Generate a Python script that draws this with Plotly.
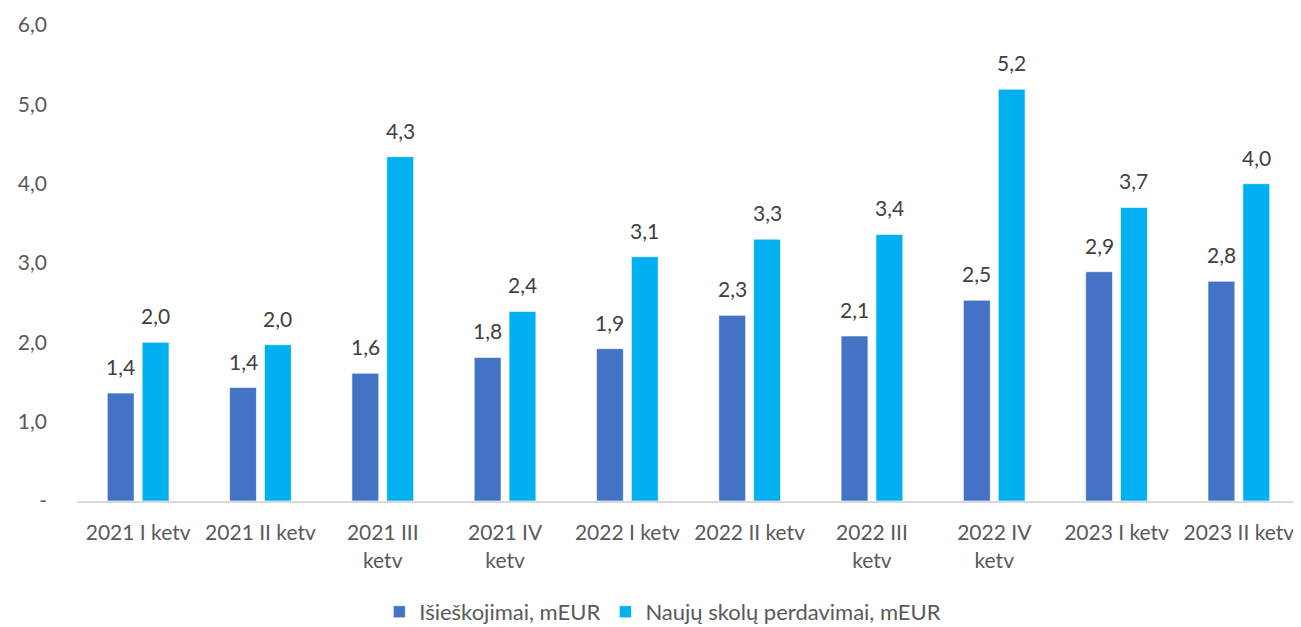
import plotly.graph_objects as go

categories = ["2021 I ketv", "2021 II ketv", "2021 III<br>ketv", "2021 IV<br>ketv",
              "2022 I ketv", "2022 II ketv", "2022 III<br>ketv", "2022 IV<br>ketv",
              "2023 I ketv", "2023 II ketv"]
isieskojimai = [1.36, 1.43, 1.61, 1.81, 1.92, 2.34, 2.08, 2.53, 2.89, 2.77]
perdavimai = [2.00, 1.97, 4.34, 2.39, 3.08, 3.30, 3.36, 5.19, 3.70, 4.00]
series_names = ["Išieškojimai, mEUR", "Naujų skolų perdavimai, mEUR"]
y_tickvals = [0, 1, 2, 3, 4, 5, 6]
y_ticktext = ["-", "1,0", "2,0", "3,0", "4,0", "5,0", "6,0"]

FONT = "Lato"
colors = ["#4472C4", "#00B0F0"]
series = [isieskojimai, perdavimai]
shifts = [-17.4, 17.4]

fig = go.Figure()
for name, vals, col in zip(series_names, series, colors):
    fig.add_trace(go.Bar(
        x=categories, y=vals, name=name,
        marker=dict(color=col, line=dict(color="rgba(255,255,255,0.6)", width=1)),
        cliponaxis=False,
    ))

for vals, sh in zip(series, shifts):
    for c, v in zip(categories, vals):
        fig.add_annotation(x=c, y=v, text=f"{v:.1f}".replace(".", ","),
                           showarrow=False, xshift=sh, yshift=12, yanchor="bottom",
                           font=dict(family=FONT, size=21, color="#404040"))

fig.update_layout(
    width=1293, height=619,
    margin=dict(l=69, r=1, t=17, b=126, autoexpand=False),
    paper_bgcolor="white", plot_bgcolor="white",
    separators=", ",
    barmode="group", bargap=0.43, bargroupgap=0.23,
    font=dict(family=FONT, size=21, color="#595959"),
    showlegend=True,
    legend=dict(orientation="h", x=0.479, xanchor="center", y=-0.233, yanchor="middle",
                font=dict(family=FONT, size=22, color="#595959"),
                itemwidth=30, traceorder="normal"),
)
fig.update_xaxes(showline=True, linecolor="#D9D9D9", linewidth=2, showgrid=False,
                 ticks="", tickfont=dict(family=FONT, size=21, color="#595959"),
                 ticklabelstandoff=12, automargin=False)
fig.update_yaxes(range=[0, 6], tickvals=y_tickvals, ticktext=y_ticktext, showgrid=False,
                 zeroline=False, showline=False, ticks="",
                 tickfont=dict(family=FONT, size=21, color="#595959"),
                 ticklabelstandoff=29, automargin=False)

fig.write_html("out.html")
